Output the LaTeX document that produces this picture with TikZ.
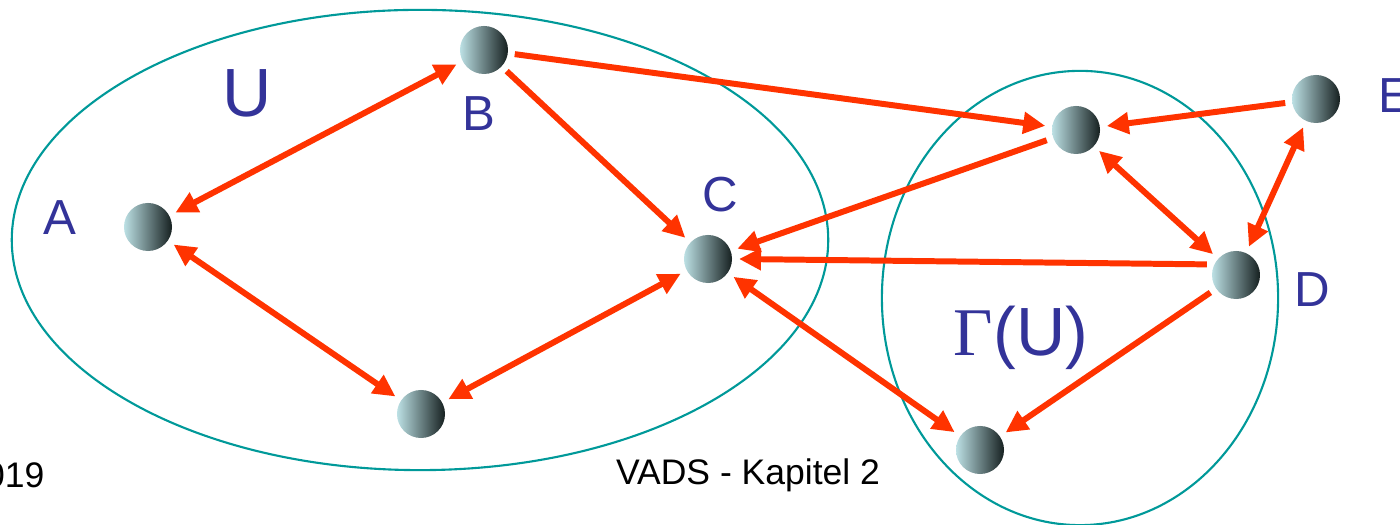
\documentclass[tikz,border=0pt]{standalone}
\usepackage{fontspec}
\setmainfont{Liberation Sans}
\newfontfamily\greekfont{Liberation Serif}
\usepackage{tikz}
\usetikzlibrary{arrows.meta}
\usepackage{xcolor}
\definecolor{arrowred}{RGB}{255,51,0}
\definecolor{labelblue}{RGB}{51,51,153}
\definecolor{setteal}{RGB}{0,153,153}
\definecolor{balllight}{RGB}{188,224,228}
\definecolor{balldark}{RGB}{22,32,32}

\begin{document}
\begin{tikzpicture}[x=0.01cm, y=0.01cm,
    % styles
    ballnode/.style={circle, left color=balllight, right color=balldark, minimum size=0.48cm, inner sep=0pt, outer sep=0.07cm},
    setline/.style={draw=setteal, line width=0.6pt},
    redline/.style={draw=arrowred, line width=1.7pt},
    namelabel/.style={text=labelblue, inner sep=0pt, anchor=base, font=\fontsize{14}{16}\selectfont},
    setlabel/.style={text=labelblue, inner sep=0pt, anchor=base, font=\fontsize{19.4}{23}\selectfont},
    footlabel/.style={text=black, inner sep=0pt, anchor=base, font=\fontsize{10.1}{12}\selectfont},
    >={Triangle[length=0.22cm, width=0.21cm]},
    ]
    \useasboundingbox (0,0) rectangle (1400,525);

    %Sets
    \draw[setline] (420,285) ellipse [x radius=4.08cm, y radius=2.30cm];
    \draw[setline] (1080,227) ellipse [x radius=1.98cm, y radius=2.27cm];

    %Nodes
    \node[ballnode] (A) at (148,298) {};
    \node[ballnode] (B) at (484,475) {};
    \node[ballnode] (C) at (708,266) {};
    \node[ballnode] (F) at (421,111) {};
    \node[ballnode] (G) at (1076,395) {};
    \node[ballnode] (D) at (1236,250) {};
    \node[ballnode] (E) at (1316,426) {};
    \node[ballnode] (H) at (980,75) {};

    %Labels
    \node[setlabel] (labU) at (247,408) {U};
    \node[setlabel] (labGU) at (1021,169) {{\greekfont Γ}(U)};
    \node[namelabel] (labA) at (60,290) {A};
    \node[namelabel] (labB) at (479,394) {B};
    \node[namelabel] (labC) at (720,313) {C};
    \node[namelabel] (labD) at (1312,218) {D};
    \node[namelabel, anchor=base west] (labE) at (1378,412) {E};
    \node[footlabel, anchor=base east] (year) at (45,37) {019};
    \node[footlabel] (chapter) at (748,40) {VADS - Kapitel 2};

    %Lines
    \draw[redline,<->] (A) -- (B);
    \draw[redline,<->] (A) -- (F);
    \draw[redline,<->] (F) -- (C);
    \draw[redline,->] (B) -- (C);
    \draw[redline,->] (B) -- (G);
    \draw[redline,->] (G) -- (C);
    \draw[redline,->] (D.160) -- (C.east);
    \draw[redline,<->] (C) -- (H);
    \draw[redline,->] (E) -- (G);
    \draw[redline,<->] (G) -- (D);
    \draw[redline,<->] (E) -- (D);
    \draw[redline,->] (D) -- (H);
\end{tikzpicture}
\end{document}
